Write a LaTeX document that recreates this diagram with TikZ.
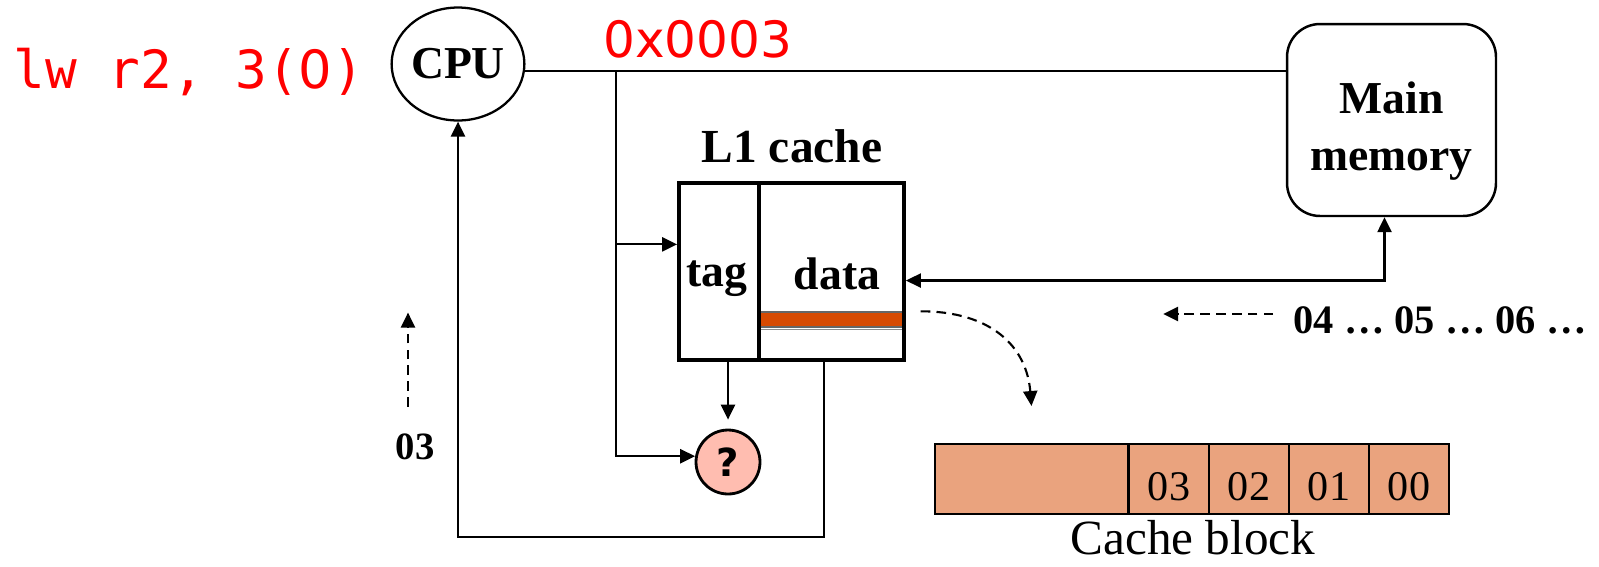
\documentclass[tikz,border=0pt]{standalone}
\usepackage{fontspec}
\setmainfont{Liberation Serif}
\newfontfamily\codefont{DejaVu Sans Mono}
\newfontfamily\qfont{DejaVu Sans}
\usetikzlibrary{arrows.meta,shapes.geometric,calc}
\definecolor{barorange}{RGB}{214,74,2}
\definecolor{blockfill}{RGB}{234,163,126}
\definecolor{qfill}{RGB}{255,189,176}
\definecolor{codered}{RGB}{255,0,0}

\begin{document}
\begin{tikzpicture}[x=0.02cm,y=-0.02cm,
    lbl/.style={font=\bfseries\fontsize{26}{32}\selectfont, inner sep=0pt},
    seq/.style={font=\bfseries\fontsize{23}{28}\selectfont, inner sep=0pt},
    num/.style={font=\fontsize{24}{28}\selectfont, inner sep=0pt},
    code/.style={font=\codefont\fontsize{30}{36}\selectfont, text=codered, inner sep=0pt},
    wire/.style={line width=1.2pt},
    arr/.style={wire, -{Triangle[length=8.5pt,width=8pt]}},
    flow/.style={line width=1.2pt, dash pattern=on 5.5pt off 3.5pt, -{Triangle[length=8.5pt,width=8pt]}},
    cell/.style={draw, line width=2.2pt, minimum height=3.54cm, inner sep=0pt},
    blockcell/.style={draw, line width=1.2pt, fill=blockfill, minimum height=1.4cm, minimum width=1.6cm, inner sep=0pt}]
        \useasboundingbox (0,0) rectangle (1599,566);
        % instruction and address
        \node[code, anchor=base west] (instr) at (13,88) {lw r2, 3({\qfont 0})};
        \node[code, font=\qfont\fontsize{28.5}{34}\selectfont, anchor=base west] (addr) at (603,57) {0x0003};
        % CPU
        \node[draw, ellipse, line width=1.3pt, minimum width=2.56cm, minimum height=2.26cm, inner sep=0pt, font=\bfseries\fontsize{26}{30}\selectfont] (cpu) at (458,64) {CPU};
        % Main memory
        \node[draw, rounded corners=0.66cm, line width=1.4pt, minimum width=4.18cm, minimum height=3.84cm] (mem) at (1391.5,120) {};
        \node[lbl, align=center] (memtxt) at (1391.5,131) {Main\\memory};
        % bus
        \draw[wire] (cpu.-6) -- (cpu.-6 -| mem.west);
        \coordinate (tap) at (616,71);
        % L1 cache: tag | data
        \node[draw=black!60, line width=0.8pt, fill=barorange, minimum width=2.9cm, minimum height=0.3cm, inner sep=0pt] (bar) at (831.5,319.5) {};
        \draw[black!45, line width=0.8pt] (bar.south west) ++(0,2) -- ++(145,0);
        \node[cell, minimum width=1.6cm] (tagcell) at (719,271.5) {};
        \node[cell, minimum width=2.9cm] (datacell) at (831.5,271.5) {};
        \node[lbl, font=\bfseries\fontsize{27}{32}\selectfont] (l1) at (792,146) {L1 cache};
        \node[lbl] (tagtxt) at (717,279) {tag};
        \node[lbl] (datatxt) at (837,274) {data};
        % tag compare
        \node[draw, circle, line width=1.6pt, fill=qfill, minimum size=1.28cm, inner sep=0pt, font=\qfont\bfseries\fontsize{22}{26}\selectfont] (cmp) at (728,462) {?};
        % Arrows
        \draw[arr] (tap) |- ($(tagcell.north west)!0.35!(tagcell.south west)$);
        \draw[arr] (tap) |- (cmp.170);
        \draw[arr, shorten >=0.18cm] (tagcell.south -| cmp.north) -- (cmp.north);
        \draw[arr] ($(datacell.south west)!0.45!(datacell.south east)$) -- ++(0,175) -| (cpu.south);
        \draw[wire, {Triangle[length=8.5pt,width=8pt]}-{Triangle[length=8.5pt,width=8pt]}] ($(datacell.north east)!0.55!(datacell.south east)$) -| ([xshift=-0.14cm]mem.south);
        % Cache block
        \node[blockcell, minimum width=3.86cm] (blk0) at (1031.5,479) {};
        \foreach \v [count=\i] in {03,02,01,00} {
            \node[blockcell, anchor=west] (blk\i) at ({1048+80*\i},479) {};
            \node[num] (v\i) at ([yshift=-0.15cm]blk\i.center) {\v};
        }
        \node[font=\fontsize{28}{32}\selectfont, inner sep=0pt] (blklbl) at (1193,538) {Cache block};
        % dashed flows
        \node[seq, font=\bfseries\fontsize{22}{26}\selectfont] (cpuin) at (415,447) {03};
        \draw[flow] (cpuin.north) ++(-7,-27) -- ++(0,-94);
        \node[seq] (stream) at (1440,320) {04 … 05 … 06 …};
        \draw[flow] (stream.west) ++(-20,-6) -- ++(-110,0);
        \draw[flow] (bar.north east) ++(16,0) .. controls +(70,0) and +(-5,-60) .. ([yshift=0.74cm]blk0.north);
    \end{tikzpicture}
\end{document}
